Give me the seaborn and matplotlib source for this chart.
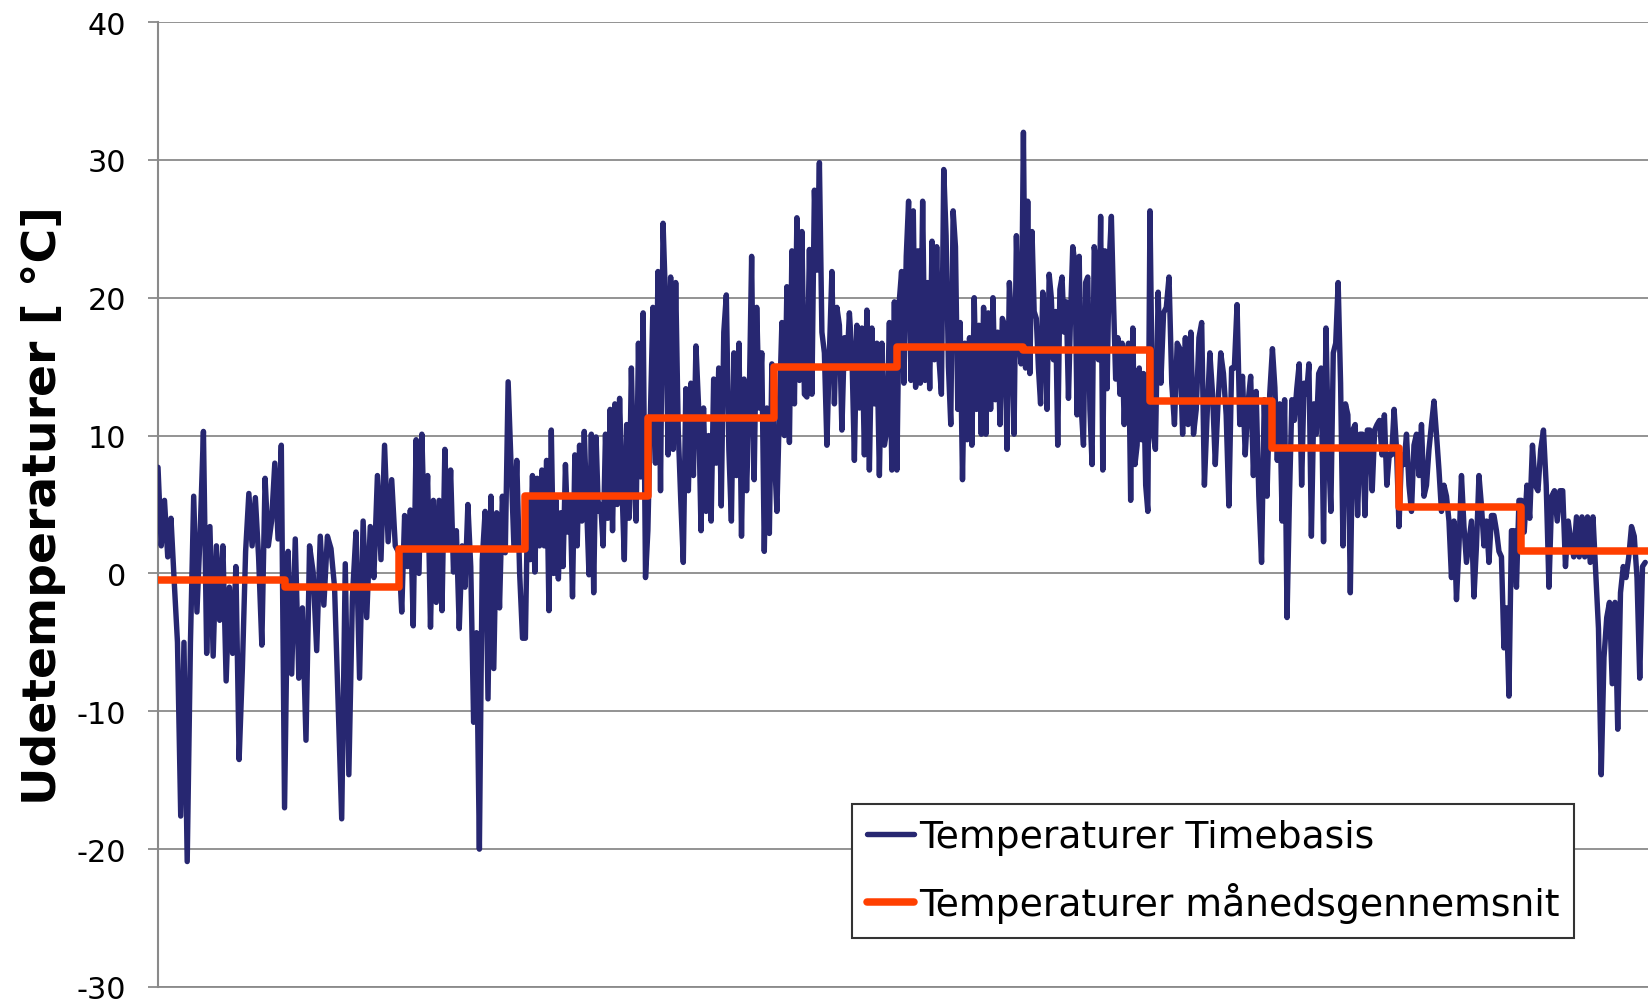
import numpy as np
import pandas as pd
import matplotlib
matplotlib.use("Agg")
import matplotlib.pyplot as plt
import seaborn as sns

# ---------------- data ----------------
month_days = [31, 28, 31, 30, 31, 30, 31, 31, 30, 31, 30, 31]
monthly_mean = [-0.5, -1.0, 1.8, 5.6, 11.3, 15.0, 16.4, 16.2, 12.5, 9.1, 4.8, 1.6]

jan = [7.7, 2.0, 5.3, 1.2, 4.0, -0.6, -5.0, -17.6, -5.0, -20.9, -5.0,
       5.6, -2.8, 3.0, 10.3, -5.8, 3.4, -6.0, 2.0, -3.4, 2.0, -7.8, -1.0, -5.8, 0.5,
       -13.5, -6.9, 1.6, 5.8, 2.0, 5.5, 1.2, -5.2, 6.9, 2.0, 3.8, 8.0, 2.5, 9.3]
feb = [-17.0, 1.6, -7.3, 2.5, -7.6, -2.5, -12.1, 2.0, 0.1, -5.6, 2.7, -2.3, 2.7, 1.8,
       -1.0, -9.5, -17.8, 0.7, -14.6, -1.7, 3.0, -7.6, 3.8, -3.2, 3.4, -0.3, 7.1, 1.0,
       9.3, 2.3, 6.8, 2.0]
mar = [1.5, -2.8, 4.2, 0.5, 4.6, -3.8, 9.7, 0.0, 10.1, 2.0, 7.1, -3.9, 5.3, -2.1, 5.3,
       -2.7, 9.0, 2.0, 7.5, 0.1, 3.1, -4.0, 2.0, -1.0, 5.0, 0.5, -10.8, -4.3, -20.0,
       1.0, 4.5, -9.1, 5.6, -6.9, 4.4, -2.5, 5.6, 1.5, 13.9, 7.9, 2.0, 8.2, 0.0, -4.7]
apr = [-4.7, 5.6, 1.0, 7.1, 0.1, 6.9, 2.0, 7.5, 2.0, 8.2, -2.7, 10.4, 0.0, 5.3, -0.4,
       4.4, 0.5, 7.9, 3.0, 5.5, -1.7, 8.6, 2.0, 9.3, 3.8, 10.3, 4.9, -0.1, 10.1, -1.4,
       9.9, 4.5, 5.0, 2.0, 10.1, 4.0, 11.9, 3.1, 12.3, 5.0, 12.7, 6.3, 1.0, 10.8, 4.0,
       14.9, 7.0, 3.8, 16.7, 7.0, 18.9, -0.3]
may = [3.1, 11.5, 19.3, 8.0, 21.9, 6.0, 25.4, 19.7, 8.6, 21.5, 9.0, 21.1, 10.4, 5.3,
       0.8, 13.4, 6.0, 13.8, 7.1, 16.5, 12.3, 3.1, 12.0, 4.5, 10.0, 3.8, 14.1, 8.0, 14.9,
       4.9, 17.5, 20.2, 9.0, 3.8, 16.0, 7.1, 16.7, 2.7, 14.1, 6.0, 12.0, 23.0, 6.8, 19.3,
       12.0, 16.0, 1.6, 12.0, 2.9, 15.2]
jun = [8.6, 4.5, 12.0, 18.2, 10.0, 20.8, 9.5, 23.4, 12.3, 25.8, 14.0, 24.8, 13.0, 12.8,
       23.5, 13.0, 27.8, 22.0, 29.8, 17.5, 16.0, 9.3, 16.0, 21.9, 12.3, 19.3, 18.0, 10.4,
       17.1, 14.9, 18.9, 16.0, 8.2, 18.0, 12.0, 17.8, 8.6, 19.1, 7.5, 17.8, 12.3, 16.7,
       7.1, 16.7, 9.3, 10.4, 18.2, 7.5, 19.7]
jul = [7.5, 19.7, 21.9, 13.8, 23.0, 27.0, 14.0, 26.3, 13.5, 23.4, 13.8, 27.0, 14.0,
       21.1, 13.4, 24.1, 15.5, 23.7, 15.5, 13.0, 29.3, 24.5, 15.0, 10.8, 26.3, 23.7,
       11.9, 18.2, 6.8, 16.7, 9.7, 17.1, 9.3, 20.0, 11.9, 18.0, 10.1, 19.3, 10.1, 18.9,
       11.9, 20.0, 12.6, 17.5, 10.8, 18.5, 18.0, 9.0, 21.1, 18.0, 10.1, 24.5, 17.1, 15.2]
aug = [32.0, 14.9, 27.0, 14.5, 24.8, 19.0, 18.5, 14.9, 12.3, 20.4, 19.0, 11.9, 21.7,
       20.0, 15.5, 19.0, 9.3, 20.6, 21.5, 17.5, 19.7, 12.7, 18.9, 23.7, 22.5, 11.5, 23.0,
       11.9, 9.3, 21.1, 21.5, 11.9, 7.9, 23.7, 22.5, 15.5, 25.9, 7.5, 23.4, 13.4, 22.6,
       25.9, 19.7, 14.1, 17.1, 13.0, 16.7, 10.8, 15.9, 16.7, 5.3, 17.8, 7.9, 9.3, 14.9,
       9.7, 14.5, 6.4, 4.5]
sep = [26.3, 10.4, 9.0, 20.4, 13.8, 18.9, 19.3, 21.5, 13.8, 10.8, 16.7, 16.3, 10.1,
       17.1, 10.8, 17.5, 10.1, 11.9, 17.1, 18.2, 6.4, 11.5, 16.0, 13.0, 7.9, 12.3, 16.0,
       14.5, 11.5, 4.9, 14.9, 14.9, 19.5, 10.8, 14.3, 8.6, 12.3, 14.3, 7.1, 13.2, 5.6,
       0.8, 12.6, 5.6, 13.0]
okt = [16.3, 13.5, 8.2, 12.3, 3.8, 12.6, -3.2, 5.6, 12.6, 11.1, 13.4, 15.2, 6.4, 13.8,
       13.0, 15.2, 2.7, 12.3, 10.1, 14.5, 14.9, 2.3, 17.8, 9.3, 4.5, 16.0, 16.7, 21.1,
       13.8, 2.0, 12.3, 11.5, -1.4, 10.4, 10.8, 4.2, 10.1, 10.1, 4.2, 10.4, 10.4, 6.0,
       10.4, 10.8, 11.1, 8.6, 11.5, 6.4, 8.6, 8.6, 11.9, 9.0]
nov = [3.4, 8.6, 7.9, 10.1, 6.4, 4.5, 9.3, 10.1, 7.1, 10.8, 5.6, 6.4, 9.0, 10.8, 12.5,
       10.1, 7.5, 4.5, 6.4, 5.6, 3.8, -0.3, 3.8, -1.9, 2.0, 7.1, 3.4, 0.8, 2.3, 3.8,
       -1.7, 2.0, 7.1, 4.9, 2.0, 3.8, 0.8, 4.2, 4.2, 3.1, 1.6, 1.2, -5.4, -2.5, -8.9,
       3.1, 3.1, -1.0, 5.3]
dec = [5.3, 3.0, 6.4, 4.0, 9.3, 6.4, 6.0, 9.0, 10.4, 6.4, -1.0, 5.6, 6.0, 3.8, 6.0,
       6.0, 0.5, 3.8, 2.3, 1.2, 4.1, 1.2, 4.1, 1.2, 4.1, 0.8, 4.1, 0.1, -4.0, -14.6,
       -6.1, -3.2, -2.1, -8.0, -2.1, -11.3, -1.4, 0.5, -0.3, 1.2, 3.4, 2.7, -0.3, -7.6,
       0.5, 0.8]

hourly_by_month = [jan, feb, mar, apr, may, jun, jul, aug, sep, okt, nov, dec]

label_hourly = "Temperaturer Timebasis"
label_month = "Temperaturer månedsgennemsnit"
y_label = "Udetemperaturer [ °C]"
y_ticks = [-30, -20, -10, 0, 10, 20, 30, 40]

# ---------------- frames ----------------
starts = np.concatenate([[0], np.cumsum(month_days)[:-1]])
xs, ys = [], []
for s, d, vals in zip(starts, month_days, hourly_by_month):
    xs.append(np.linspace(s, s + d, len(vals), endpoint=False))
    ys.append(np.asarray(vals, dtype=float))
df_hour = pd.DataFrame({"day": np.concatenate(xs), "temp": np.concatenate(ys)})

df_month = pd.DataFrame({
    "day": np.concatenate([starts, [sum(month_days)]]),
    "temp": monthly_mean + [monthly_mean[-1]],
})

# ---------------- plot ----------------
sns.set_theme(style="white")
plt.rcParams["font.family"] = ["DejaVu Sans"]
plt.rcParams["axes.unicode_minus"] = False

fig = plt.figure(figsize=(16.48, 10.04), dpi=100)
ax = fig.add_axes([158 / 1648, 16 / 1004, 1490 / 1648, 965 / 1004])

navy = "#272771"
orange = "#FF3F00"
grid_c = "#8a8a8a"

sns.lineplot(data=df_hour, x="day", y="temp", ax=ax, color=navy, linewidth=3.9,
             estimator=None, sort=False, label=label_hourly, zorder=3)
sns.lineplot(data=df_month, x="day", y="temp", ax=ax, color=orange, linewidth=5.4,
             estimator=None, sort=False, drawstyle="steps-post",
             label=label_month, zorder=4)

ax.set_xlim(0, sum(month_days))
ax.set_ylim(-30, 40)
ax.set_yticks(y_ticks)
ax.set_xticks([])
ax.set_xlabel("")
ax.yaxis.grid(True, color=grid_c, linewidth=1.3)
ax.set_axisbelow(True)
for sp in ["top", "right"]:
    ax.spines[sp].set_visible(False)
ax.spines["left"].set_color(grid_c)
ax.spines["left"].set_linewidth(1.5)
ax.spines["bottom"].set_color(grid_c)
ax.spines["bottom"].set_linewidth(1.3)
ax.tick_params(axis="y", which="major", left=True, length=7, width=1.3,
               color=grid_c, pad=16, labelsize=21.8, labelcolor="black")

ax.set_ylabel(y_label, fontsize=34, fontweight="bold", color="black")
ax.yaxis.set_label_coords(-(158 - 66) / 1490, 0.5)

leg = ax.legend(loc="upper left", bbox_to_anchor=(852 / 1648, 1 - 805 / 1004),
                bbox_transform=fig.transFigure, borderaxespad=0, fontsize=27.2,
                frameon=True, fancybox=False, framealpha=1, edgecolor="#333333",
                handlelength=1.25, handletextpad=0.12, labelspacing=0.72,
                borderpad=0.4)
leg.get_frame().set_linewidth(1.5)
for t in leg.get_texts():
    t.set_color("black")

fig.savefig("out.png", dpi=100)
